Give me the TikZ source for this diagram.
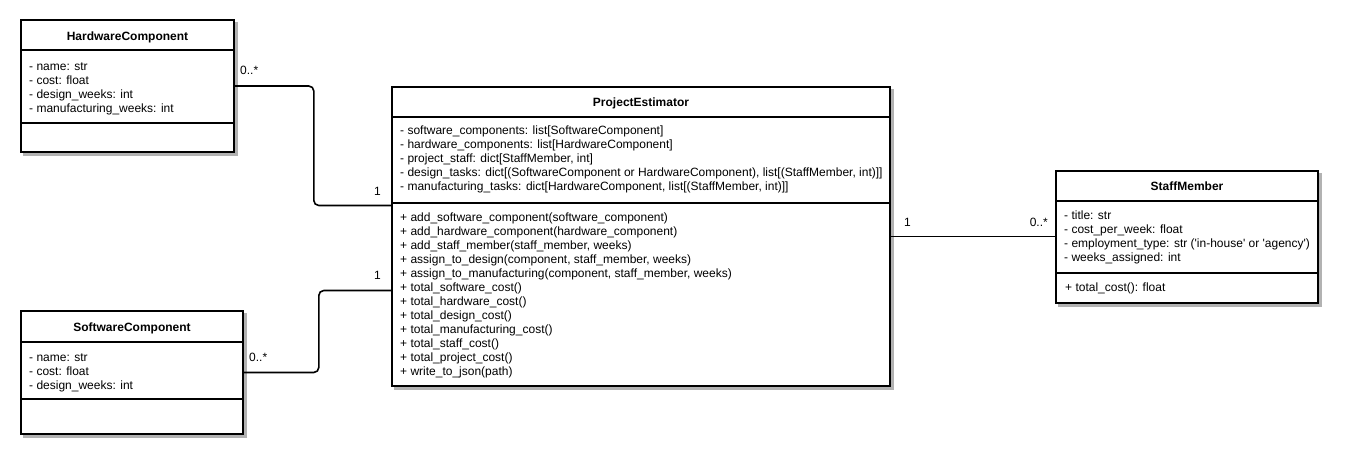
\documentclass[tikz,border=0pt]{standalone}
\usepackage{fontspec}
\setmainfont{Liberation Sans}
\usetikzlibrary{backgrounds}

\tikzset{
  umlbox/.style={draw, line width=1.6pt, fill=white, inner sep=0pt},
  boxshadow/.style={fill=black!30},
  classname/.style={anchor=base, inner sep=0pt, font=\bfseries\fontsize{12}{14}\selectfont},
  members/.style={anchor=base west, align=left, inner sep=0pt, font=\fontsize{12}{14}\selectfont},
  divider/.style={line width=1.3pt},
  assoc/.style={line width=1.6pt, rounded corners=5pt},
  mult/.style={inner sep=1pt, fill=white, font=\fontsize{12}{14}\selectfont},
}

\begin{document}
\begin{tikzpicture}[x=1pt, y=-1pt]
  \useasboundingbox (0,0) rectangle (1346,457);

  % class boxes
  \node[umlbox, minimum width=213pt, minimum height=132pt] (hw) at (127.5,86) {};
  \node[umlbox, minimum width=222pt, minimum height=123pt] (sw) at (132,372.5) {};
  \node[umlbox, minimum width=498pt, minimum height=299pt] (pe) at (641,236.5) {};
  \node[umlbox, minimum width=262pt, minimum height=132pt] (sm) at (1187,237) {};

  % shadows
  \begin{scope}[on background layer]
    \foreach \c in {hw,sw,pe,sm}
      \fill[boxshadow] ([shift={(3pt,-3pt)}]\c.south west) rectangle ([shift={(3pt,-3pt)}]\c.north east);
  \end{scope}

  % compartments
  \draw[divider] (hw.west |- 0,50) -- (hw.east |- 0,50);
  \draw[divider] (hw.west |- 0,123) -- (hw.east |- 0,123);
  \draw[divider] (sw.west |- 0,342) -- (sw.east |- 0,342);
  \draw[divider] (sw.west |- 0,399) -- (sw.east |- 0,399);
  \draw[divider] (pe.west |- 0,117) -- (pe.east |- 0,117);
  \draw[divider] (pe.west |- 0,203) -- (pe.east |- 0,203);
  \draw[divider] (sm.west |- 0,201) -- (sm.east |- 0,201);
  \draw[divider] (sm.west |- 0,273) -- (sm.east |- 0,273);

  % HardwareComponent (members anchored at last line)
  \node[classname] (hw-name) at (127.5,40.5) {HardwareComponent};
  \node[members] (hw-attr) at (29,112.5) {- name: str\\- cost: float\\- design\_weeks: int\\- manufacturing\_weeks: int};

  % SoftwareComponent
  \node[classname] (sw-name) at (132,331) {SoftwareComponent};
  \node[members] (sw-attr) at (29,389.5) {- name: str\\- cost: float\\- design\_weeks: int};

  % ProjectEstimator
  \node[classname] (pe-name) at (641,106.5) {ProjectEstimator};
  \node[members] (pe-attr) at (400,190.5) {- software\_components: list[SoftwareComponent]\\
    - hardware\_components: list[HardwareComponent]\\
    - project\_staff: dict[StaffMember, int]\\
    - design\_tasks: dict[(SoftwareComponent or HardwareComponent), list[(StaffMember, int)]]\\
    - manufacturing\_tasks: dict[HardwareComponent, list[(StaffMember, int)]]};
  \node[members] (pe-ops) at (400,375) {+ add\_software\_component(software\_component)\\
    + add\_hardware\_component(hardware\_component)\\
    + add\_staff\_member(staff\_member, weeks)\\
    + assign\_to\_design(component, staff\_member, weeks)\\
    + assign\_to\_manufacturing(component, staff\_member, weeks)\\
    + total\_software\_cost()\\
    + total\_hardware\_cost()\\
    + total\_design\_cost()\\
    + total\_manufacturing\_cost()\\
    + total\_staff\_cost()\\
    + total\_project\_cost()\\
    + write\_to\_json(path)};

  % StaffMember
  \node[classname] (sm-name) at (1187,191) {StaffMember};
  \node[members] (sm-attr) at (1064,261) {- title: str\\- cost\_per\_week: float\\
    - employment\_type: str (\textquotesingle in-house\textquotesingle{} or \textquotesingle agency\textquotesingle)\\
    - weeks\_assigned: int};
  \node[members] (sm-ops) at (1065,291) {+ total\_cost(): float};

  % associations
  \draw[assoc] (hw.east) -- ++(79,0) |- ([yshift=31pt]pe.west);
  \draw[assoc] (sw.east) -- ++(75,0) |- ([yshift=-54pt]pe.west);
  \draw[assoc] (pe.east) -- (pe.east -| sm.west);

  % multiplicities
  \node[mult, anchor=base west] (hw-many) at (239,75) {0..*};
  \node[mult, anchor=base east] (pe-hw-one) at (382,196) {1};
  \node[mult, anchor=base west] (sw-many) at (248,361) {0..*};
  \node[mult, anchor=base east] (pe-sw-one) at (382,279) {1};
  \node[mult, anchor=base west] (pe-sm-one) at (903,226) {1};
  \node[mult, anchor=base east] (sm-many) at (1049,226) {0..*};
\end{tikzpicture}
\end{document}
